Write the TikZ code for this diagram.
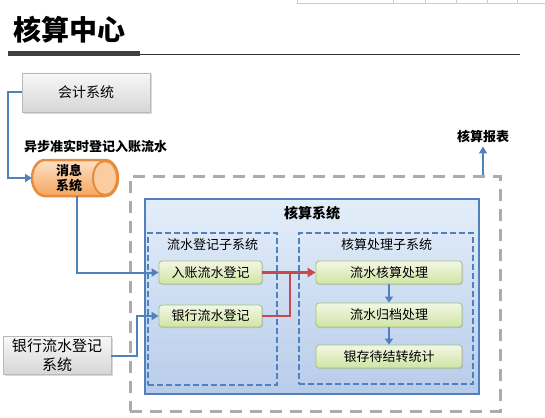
\documentclass[tikz,border=0pt]{standalone}
\usepackage{fontspec}
\setmainfont{Noto Sans CJK SC}
\usetikzlibrary{arrows.meta,shadows,calc}
\definecolor{blueL}{RGB}{79,129,189}
\definecolor{redL}{RGB}{200,72,80}
\definecolor{grnT}{RGB}{242,247,228}
\definecolor{grnB}{RGB}{208,228,165}
\definecolor{grnD}{RGB}{165,195,115}
\definecolor{sysT}{RGB}{228,238,250}
\definecolor{sysB}{RGB}{184,204,234}
\definecolor{orD}{RGB}{230,140,60}
\definecolor{orT}{RGB}{252,225,198}
\definecolor{orB}{RGB}{246,165,95}
\definecolor{orE}{RGB}{250,205,160}
\begin{document}
\begin{tikzpicture}[x=1pt,y=-1pt,
  every node/.style={inner sep=0pt},
  graybox/.style={draw=gray!55, top color=gray!6, bottom color=gray!32,
    drop shadow={shadow xshift=1.5pt,shadow yshift=-1.5pt,opacity=0.3}},
  greenbox/.style={draw=grnD, line width=0.8pt, rounded corners=3pt, top color=grnT, bottom color=grnB,
    minimum width=#1, font=\fontsize{13}{15}\selectfont,
    drop shadow={shadow xshift=1pt,shadow yshift=-1pt,opacity=0.25}},
  sysbox/.style={draw=blueL, line width=2pt, top color=sysT, bottom color=sysB},
  subbox/.style={draw=blueL, line width=1.4pt, dash pattern=on 6pt off 3pt},
  bigdash/.style={draw=gray!65, line width=3pt, dash pattern=on 12pt off 8pt},
  blueline/.style={draw=blueL, line width=2pt, -{Triangle[length=7pt,width=8pt]}},
  redline/.style={draw=redL, line width=2.5pt},
  redarrow/.style={redline, -{Triangle[length=8pt,width=9pt]}},
  boldlbl/.style={font=\bfseries\fontsize{13}{15}\selectfont},
  sublbl/.style={font=\fontsize{13}{15}\selectfont}
]
\useasboundingbox (0,0) rectangle (545,417);
% faint table fragment at top
\draw[gray!40, line width=0.6pt] (297,0) -- (297,3) -- (545,3);
\foreach \xx in {393,425,456,487,517} \draw[gray!40, line width=0.6pt] (\xx,0) -- (\xx,3);
% title
\node[anchor=west, font=\bfseries\fontsize{28}{30}\selectfont] (title) at (13,30) {核算中心};
\fill[black!75] (8,51) rectangle (140,56);
\coordinate (ulA) at (140,54);
\coordinate (ulB) at (520,54);
\draw[black!80, line width=0.8pt] (ulA) -- (ulB);
% accounting system
\node[graybox, minimum width=128, minimum height=39, font=\fontsize{14}{16}\selectfont] (acct) at (86,92.5) {会计系统};
\node[boldlbl, anchor=west] (lbl) at (24,146) {异步准实时登记入账流水};
% message system cylinder
\path[draw=orD, line width=2.5pt, top color=orT, bottom color=orB]
  (45,160) -- (105,160) arc[start angle=-90, end angle=90, x radius=13, y radius=18]
  -- (45,196) arc[start angle=90, end angle=270, x radius=13, y radius=18] -- cycle;
\path[draw=orD, line width=2pt, fill=orE] (105,178) ellipse[x radius=12, y radius=17];
\node[boldlbl, align=center, font=\bfseries\fontsize{13}{15}\selectfont] (msg) at (69,178) {消息\\系统};
\coordinate (msgL) at (32,178);
\coordinate (msgB) at (77,196);
\draw[blueline] (acct.west) -- ++(-14,0) |- (msgL);
% outer dashed area
\node[bigdash, minimum width=370, minimum height=235] (outer) at (315,293.5) {};
\node[boldlbl] (rep) at (483,137) {核算报表};
\draw[blueline, shorten >=3pt] (outer.north -| rep.south) -- (rep.south);
% accounting system box
\node[sysbox, minimum width=334, minimum height=195] (sys) at (311.5,296) {};
\node[font=\bfseries\fontsize{14}{16}\selectfont] (systitle) at (312,213) {核算系统};
% subsystems
\node[subbox, minimum width=129, minimum height=152] (sub1) at (212.5,309) {};
\node[sublbl] (sub1t) at (212.5,245) {流水登记子系统};
\node[subbox, minimum width=174, minimum height=151] (sub2) at (386,308.5) {};
\node[sublbl] (sub2t) at (386.5,245) {核算处理子系统};
% green boxes
\node[greenbox=103, minimum height=23] (a1) at (210.5,272.5) {入账流水登记};
\node[greenbox=103, minimum height=22] (a2) at (210.5,316) {银行流水登记};
\node[greenbox=146, minimum height=23] (b1) at (389,272.5) {流水核算处理};
\node[greenbox=146, minimum height=24] (b2) at (389,315) {流水归档处理};
\node[greenbox=146, minimum height=23] (b3) at (389,356.5) {银存待结转统计};
% red connectors
\coordinate (merge) at (290,272.5);
\draw[redline] (a2.east) -| (merge);
\draw[redarrow] (a1.east) -- (b1.west);
% blue arrows between processing steps
\draw[draw=blueL, line width=2pt, -{Triangle[length=6pt,width=8pt]}] (b1.south) -- (b2.north);
\draw[draw=blueL, line width=2pt, -{Triangle[length=6pt,width=8pt]}] (b2.south) -- (b3.north);
% bank system
\node[graybox, minimum width=108, minimum height=38, align=center, font=\fontsize{15}{19}\selectfont] (bank) at (57,355.5) {银行流水登记\\系统};
% blue connectors into registration
\draw[blueline] (msgB) |- (a1.west);
\draw[blueline] (bank.east) -- ++(26,0) |- (a2.west);
\end{tikzpicture}
\end{document}
